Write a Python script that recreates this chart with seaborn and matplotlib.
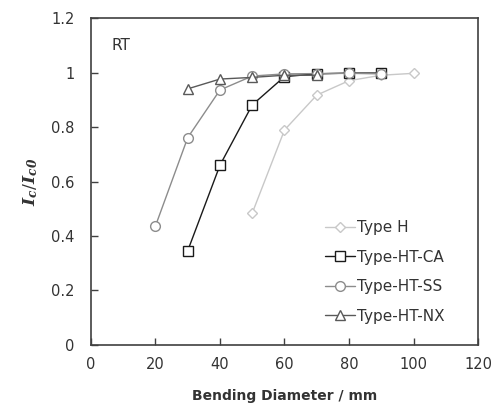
import seaborn as sns
import matplotlib.pyplot as plt
import pandas as pd

sns.set_style('ticks')
plt.rcParams['font.family'] = ['DejaVu Sans']
plt.rcParams['mathtext.fontset'] = 'dejavuserif'

# bending diameter (mm) and normalised Ic for each tape
h_x = [50, 60, 70, 80, 90, 100]
h_y = [0.484, 0.789, 0.917, 0.970, 0.990, 0.997]

ca_x = [30, 40, 50, 60, 70, 80, 90]
ca_y = [0.346, 0.660, 0.881, 0.985, 0.995, 0.998, 0.998]

ss_x = [20, 30, 40, 50, 60, 70, 80, 90]
ss_y = [0.437, 0.761, 0.936, 0.987, 0.995, 0.996, 0.997, 0.995]

nx_x = [30, 40, 50, 60, 70]
nx_y = [0.940, 0.976, 0.982, 0.990, 0.990]

series = [
    ('Type H', h_x, h_y, '#c8c8c8', 'D', 5.5),
    ('Type-HT-CA', ca_x, ca_y, '#1a1a1a', 's', 6.5),
    ('Type-HT-SS', ss_x, ss_y, '#8c8c8c', 'o', 7),
    ('Type-HT-NX', nx_x, nx_y, '#595959', '^', 7.5),
]

fig = plt.figure(figsize=(5.01, 4.16), dpi=100)
ax = fig.add_axes([0.1816, 0.1707, 0.7725, 0.786])

for name, xs, ys, col, mk, ms in series:
    df = pd.DataFrame({'x': xs, 'y': ys})
    sns.lineplot(data=df, x='x', y='y', ax=ax, color=col, marker=mk,
                 markersize=ms, markerfacecolor='white', markeredgecolor=col,
                 markeredgewidth=1.0, linewidth=1.0, label=name)

ax.set_xlim(0, 120)
ax.set_ylim(0, 1.2)
ax.set_xticks([0, 20, 40, 60, 80, 100, 120])
ax.set_yticks([0, 0.2, 0.4, 0.6, 0.8, 1.0, 1.2])
ax.set_yticklabels(['0', '0.2', '0.4', '0.6', '0.8', '1', '1.2'])
ax.tick_params(direction='in', length=5, width=1, colors='#404040',
               labelcolor='#333333', labelsize=10.5, pad=9)
ax.tick_params(axis='y', pad=12)
for s in ax.spines.values():
    s.set_color('#404040')
    s.set_linewidth(1.2)

ax.set_xlabel('Bending Diameter / mm', fontsize=10, fontweight='bold',
              color='#333333', labelpad=12)
ax.set_ylabel(r'$\mathbfit{I}_\mathbfit{c}/\mathbfit{I}_\mathbfit{c0}$',
              fontsize=12.5, color='#333333', labelpad=8)

ax.text(6.5, 1.1, 'RT', fontsize=11, color='#333333', va='center')

leg = ax.legend(loc='lower right', bbox_to_anchor=(0.97, 0.0),
                frameon=False, fontsize=11, handlelength=2.0,
                handletextpad=0.15, labelspacing=0.95, borderaxespad=1.0)
for t in leg.get_texts():
    t.set_color('#333333')

fig.savefig('out.png', dpi=100)
